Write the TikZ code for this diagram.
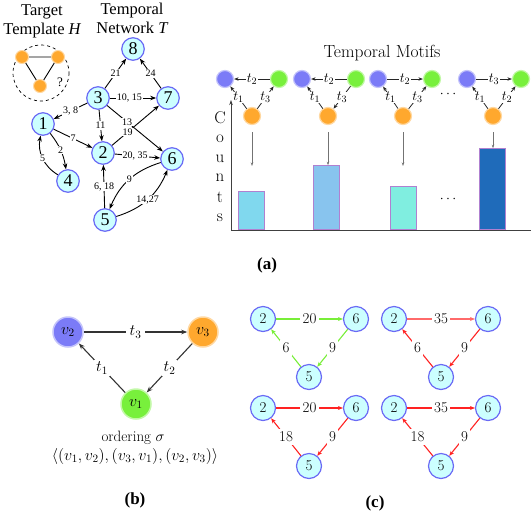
\RequirePackage{fix-cm}
\documentclass[tikz,border=0pt]{standalone}
\usepackage{fontspec}
\usetikzlibrary{arrows.meta}
\newfontfamily\tmsfont{Liberation Serif}
\definecolor{netfill}{HTML}{CCFFFF}
\definecolor{netdraw}{HTML}{6A6AF5}
\definecolor{mblue}{HTML}{7B7BF7}
\definecolor{mgreen}{HTML}{78F03C}
\definecolor{morange}{HTML}{FFA82E}
\definecolor{barA}{HTML}{80D8EE}
\definecolor{barB}{HTML}{88C4EE}
\definecolor{barC}{HTML}{80EEE0}
\definecolor{barD}{HTML}{1F6BBA}
\definecolor{barline}{HTML}{B080D0}
\definecolor{cgreen}{HTML}{78EE38}
\definecolor{cred}{HTML}{FF2222}
\definecolor{credl}{HTML}{FF6A6A}
\begin{document}
\begin{tikzpicture}[x=1pt,y=-1pt,
  net/.style={circle, draw=netdraw, fill=netfill, line width=1.2pt, minimum size=22.5pt, inner sep=0pt, font=\tmsfont\fontsize{18}{18}\selectfont},
  nedge/.style={-{Stealth[length=6pt,width=4.5pt]}, line width=0.9pt},
  nlbl/.style={fill=white, inner sep=0.8pt, font=\tmsfont\fontsize{10}{10}\selectfont},
  ttl/.style={font=\tmsfont\fontsize{16.5}{17}\selectfont, anchor=base, inner sep=0pt},
  tor/.style={circle, minimum size=13pt, inner sep=0pt, fill=morange, draw=morange!45!white, line width=1pt},
  mot/.style={circle, minimum size=17pt, inner sep=0pt, line width=1.2pt},
  mb/.style={mot, fill=mblue, draw=mblue!45!white},
  mg/.style={mot, fill=mgreen, draw=mgreen!45!white},
  mo/.style={mot, fill=morange, draw=morange!45!white},
  medge/.style={-{Stealth[length=4.5pt,width=3.5pt]}, line width=0.8pt, draw=black!85},
  mlbl/.style={fill=white, inner sep=0.4pt, font=\fontsize{14}{14}\selectfont},
  garrow/.style={-{Stealth[length=3.5pt,width=2.5pt]}, line width=0.6pt, draw=black!55},
  bar/.style={draw=barline, line width=0.8pt, minimum width=26pt, anchor=south, inner sep=0pt},
  cnt/.style={font=\fontsize{17}{17}\selectfont, inner sep=0pt},
  bnode/.style={circle, minimum size=30pt, inner sep=0pt, line width=1.5pt, font=\fontsize{16}{16}\selectfont},
  bedge/.style={-{Stealth[length=6pt,width=4.5pt]}, line width=1.1pt, draw=black!80},
  blbl/.style={fill=white, inner sep=4pt, font=\fontsize{16}{16}\selectfont},
  cnode/.style={circle, draw=netdraw, fill=netfill, line width=1.2pt, minimum size=25pt, inner sep=0pt, font=\fontsize{15}{15}\selectfont},
  clbl/.style={fill=white, inner sep=2.5pt, font=\fontsize{15}{15}\selectfont},
  gedge/.style={-{Stealth[length=5pt,width=4pt]}, line width=1.1pt, draw=cgreen},
  redge/.style={-{Stealth[length=5pt,width=4pt]}, line width=1.1pt, draw=cred},
  rledge/.style={-{Stealth[length=5pt,width=4pt]}, line width=1.1pt, draw=credl},
  sub/.style={font=\tmsfont\bfseries\fontsize{17}{17}\selectfont}
]
\useasboundingbox (0,0) rectangle (532,512);

% ---------- titles ----------
\node[ttl] (tA) at (42,15) {Target};
\node[ttl] (tB) at (42,34) {Template {\itshape H}};
\node[ttl] (tC) at (132,14) {Temporal};
\node[ttl] (tD) at (132,33) {Network {\itshape T}};

% ---------- template ----------
\draw[dashed, line width=0.7pt] (41,73) circle[radius=28];
\node[tor] (to1) at (22,57) {};
\node[tor] (to2) at (58,57) {};
\node[tor] (to3) at (40,86) {};
\draw[line width=0.9pt] (to1) -- (to2) (to1) -- (to3) (to2) -- (to3);
\node[font=\tmsfont\fontsize{13}{13}\selectfont] (qm) at (60,82) {?};

% ---------- temporal network ----------
\node[net] (n8) at (133,49) {8};
\node[net] (n3) at (98,98) {3};
\node[net] (n7) at (168,98) {7};
\node[net] (n1) at (43,124) {1};
\node[net] (n2) at (103,153) {2};
\node[net] (n6) at (172,159) {6};
\node[net] (n4) at (68,181) {4};
\node[net] (n5) at (105,220) {5};
\draw[nedge] (n3) -- node[nlbl]{21} (n8);
\draw[nedge] (n7) -- node[nlbl]{24} (n8);
\draw[nedge] (n3) -- node[nlbl,pos=0.42]{10, 15} (n7);
\draw[nedge] (n3) -- node[nlbl]{3, 8} (n1);
\draw[nedge] (n3) -- node[nlbl]{11} (n2);
\draw[nedge] (n3) -- node[nlbl,pos=0.36]{13} (n6);
\draw[nedge] (n2) -- node[nlbl,pos=0.33]{19} (n7);
\draw[nedge] (n1) -- node[nlbl]{7} (n2);
\draw[nedge] (n1) to[bend left=14] node[nlbl]{2} (n4);
\draw[nedge] (n4) to[bend left=35] node[nlbl]{5} (n1);
\draw[nedge] (n2) -- node[nlbl,pos=0.45]{20, 35} (n6);
\draw[nedge] (n5) -- node[nlbl]{6, 18} (n2);
\draw[nedge] (n6) to[bend right=25] node[nlbl]{9} (n5);
\draw[nedge] (n5) to[bend right=25] node[nlbl]{14,27} (n6);

% ---------- temporal motifs ----------
\node[font=\fontsize{17.5}{18}\selectfont] (tm) at (382,53) {Temporal Motifs};
% motif 1
\node[mb] (b1) at (225,79) {};
\node[mg] (g1) at (279,79) {};
\node[mo] (o1) at (252,116) {};
\draw[medge] (g1) -- node[mlbl]{$t_2$} (b1);
\draw[medge] (o1) -- node[mlbl]{$t_1$} (b1);
\draw[medge] (o1) -- node[mlbl]{$t_3$} (g1);
% motif 2
\node[mb] (b2) at (302,79) {};
\node[mg] (g2) at (356,79) {};
\node[mo] (o2) at (328,116) {};
\draw[medge] (g2) -- node[mlbl]{$t_2$} (b2);
\draw[medge] (o2) -- node[mlbl]{$t_1$} (b2);
\draw[medge] (g2) -- node[mlbl]{$t_3$} (o2);
% motif 3
\node[mb] (b3) at (378,79) {};
\node[mg] (g3) at (432,79) {};
\node[mo] (o3) at (403,116) {};
\draw[medge] (b3) -- node[mlbl]{$t_2$} (g3);
\draw[medge] (o3) -- node[mlbl]{$t_1$} (b3);
\draw[medge] (o3) -- node[mlbl]{$t_3$} (g3);
% motif 4
\node[mb] (b4) at (467,79) {};
\node[mg] (g4) at (521,79) {};
\node[mo] (o4) at (493,116) {};
\draw[medge] (b4) -- node[mlbl]{$t_3$} (g4);
\draw[medge] (o4) -- node[mlbl]{$t_1$} (b4);
\draw[medge] (o4) -- node[mlbl]{$t_2$} (g4);
\node[font=\fontsize{14}{14}\selectfont] (dt1) at (448,94) {$\cdots$};

% axes
\coordinate (ax0) at (231,230);
\coordinate (axy) at (231,100);
\coordinate (axx) at (531,230);
\draw[-{Stealth[length=5pt,width=3.5pt]}, line width=0.7pt, draw=black!75] (ax0) -- (axy);
\draw[line width=0.7pt, draw=black!75] (ax0) -- (axx);
\node[cnt] (cC) at (220,118) {C};
\node[cnt] (cO) at (220,139) {o};
\node[cnt] (cU) at (220,159) {u};
\node[cnt] (cN) at (220,178) {n};
\node[cnt] (cT) at (220,197) {t};
\node[cnt] (cS) at (220,218) {s};

% bars
\node[bar, fill=barA, minimum height=38pt] (bar1) at (251,230) {};
\node[bar, fill=barB, minimum height=64pt] (bar2) at (326.5,230) {};
\node[bar, fill=barC, minimum height=43pt] (bar3) at (403.5,230) {};
\node[bar, fill=barD, minimum height=81pt] (bar4) at (492.5,230) {};
\node[font=\fontsize{14}{14}\selectfont] (dt2) at (448,199) {$\cdots$};
\coordinate (e1) at (252,166);
\coordinate (e3) at (403,166);
\draw[garrow] ([yshift=-7pt]o1.south) -- (e1);
\draw[garrow] ([yshift=-7pt]o2.south) -- (o2.south |- bar2.north);
\draw[garrow] ([yshift=-7pt]o3.south) -- (e3);
\draw[garrow] ([yshift=-7pt]o4.south) -- (o4.south |- bar4.north);

\node[sub] (la) at (267,265) {(a)};

% ---------- (b) ----------
\node[bnode, fill=mblue, draw=mblue!45!white] (v2) at (68,332) {$v_2$};
\node[bnode, fill=morange, draw=morange!45!white] (v3) at (203,332) {$v_3$};
\node[bnode, fill=mgreen, draw=mgreen!45!white] (v1) at (136,404) {$v_1$};
\draw[bedge] (v2) -- node[blbl]{$t_3$} (v3);
\draw[bedge] (v1) -- node[blbl, inner sep=2pt]{$t_1$} (v2);
\draw[bedge] (v3) -- node[blbl, inner sep=2pt]{$t_2$} (v1);
\node[font=\fontsize{15}{15}\selectfont] (ord) at (133,438) {ordering $\sigma$};
\node[font=\fontsize{16}{16}\selectfont] (seq) at (135,456) {$\langle (v_1,v_2),(v_3,v_1),(v_2,v_3)\rangle$};
\node[sub] (lb) at (135,500) {(b)};

% ---------- (c) ----------
% top-left
\node[cnode] (a2) at (263,319) {2};
\node[cnode] (a6) at (356,319) {6};
\node[cnode] (a5) at (309,377) {5};
\draw[gedge] (a2) -- node[clbl]{20} (a6);
\draw[gedge] (a6) -- node[clbl]{9} (a5);
\draw[gedge] (a5) -- node[clbl]{6} (a2);
% top-right
\node[cnode] (b2c) at (394,319) {2};
\node[cnode] (b6c) at (488,319) {6};
\node[cnode] (b5c) at (441,377) {5};
\draw[rledge] (b2c) -- node[clbl]{35} (b6c);
\draw[redge] (b6c) -- node[clbl]{9} (b5c);
\draw[redge] (b5c) -- node[clbl]{6} (b2c);
% bottom-left
\node[cnode] (c2) at (263,408) {2};
\node[cnode] (c6) at (356,408) {6};
\node[cnode] (c5) at (309,466) {5};
\draw[redge] (c2) -- node[clbl]{20} (c6);
\draw[redge] (c6) -- node[clbl]{9} (c5);
\draw[redge] (c5) -- node[clbl]{18} (c2);
% bottom-right
\node[cnode] (d2) at (394,408) {2};
\node[cnode] (d6) at (488,408) {6};
\node[cnode] (d5) at (441,466) {5};
\draw[redge] (d2) -- node[clbl]{35} (d6);
\draw[redge] (d6) -- node[clbl]{9} (d5);
\draw[redge] (d5) -- node[clbl]{18} (d2);
\node[sub] (lc) at (375,503) {(c)};
\end{tikzpicture}
\end{document}
